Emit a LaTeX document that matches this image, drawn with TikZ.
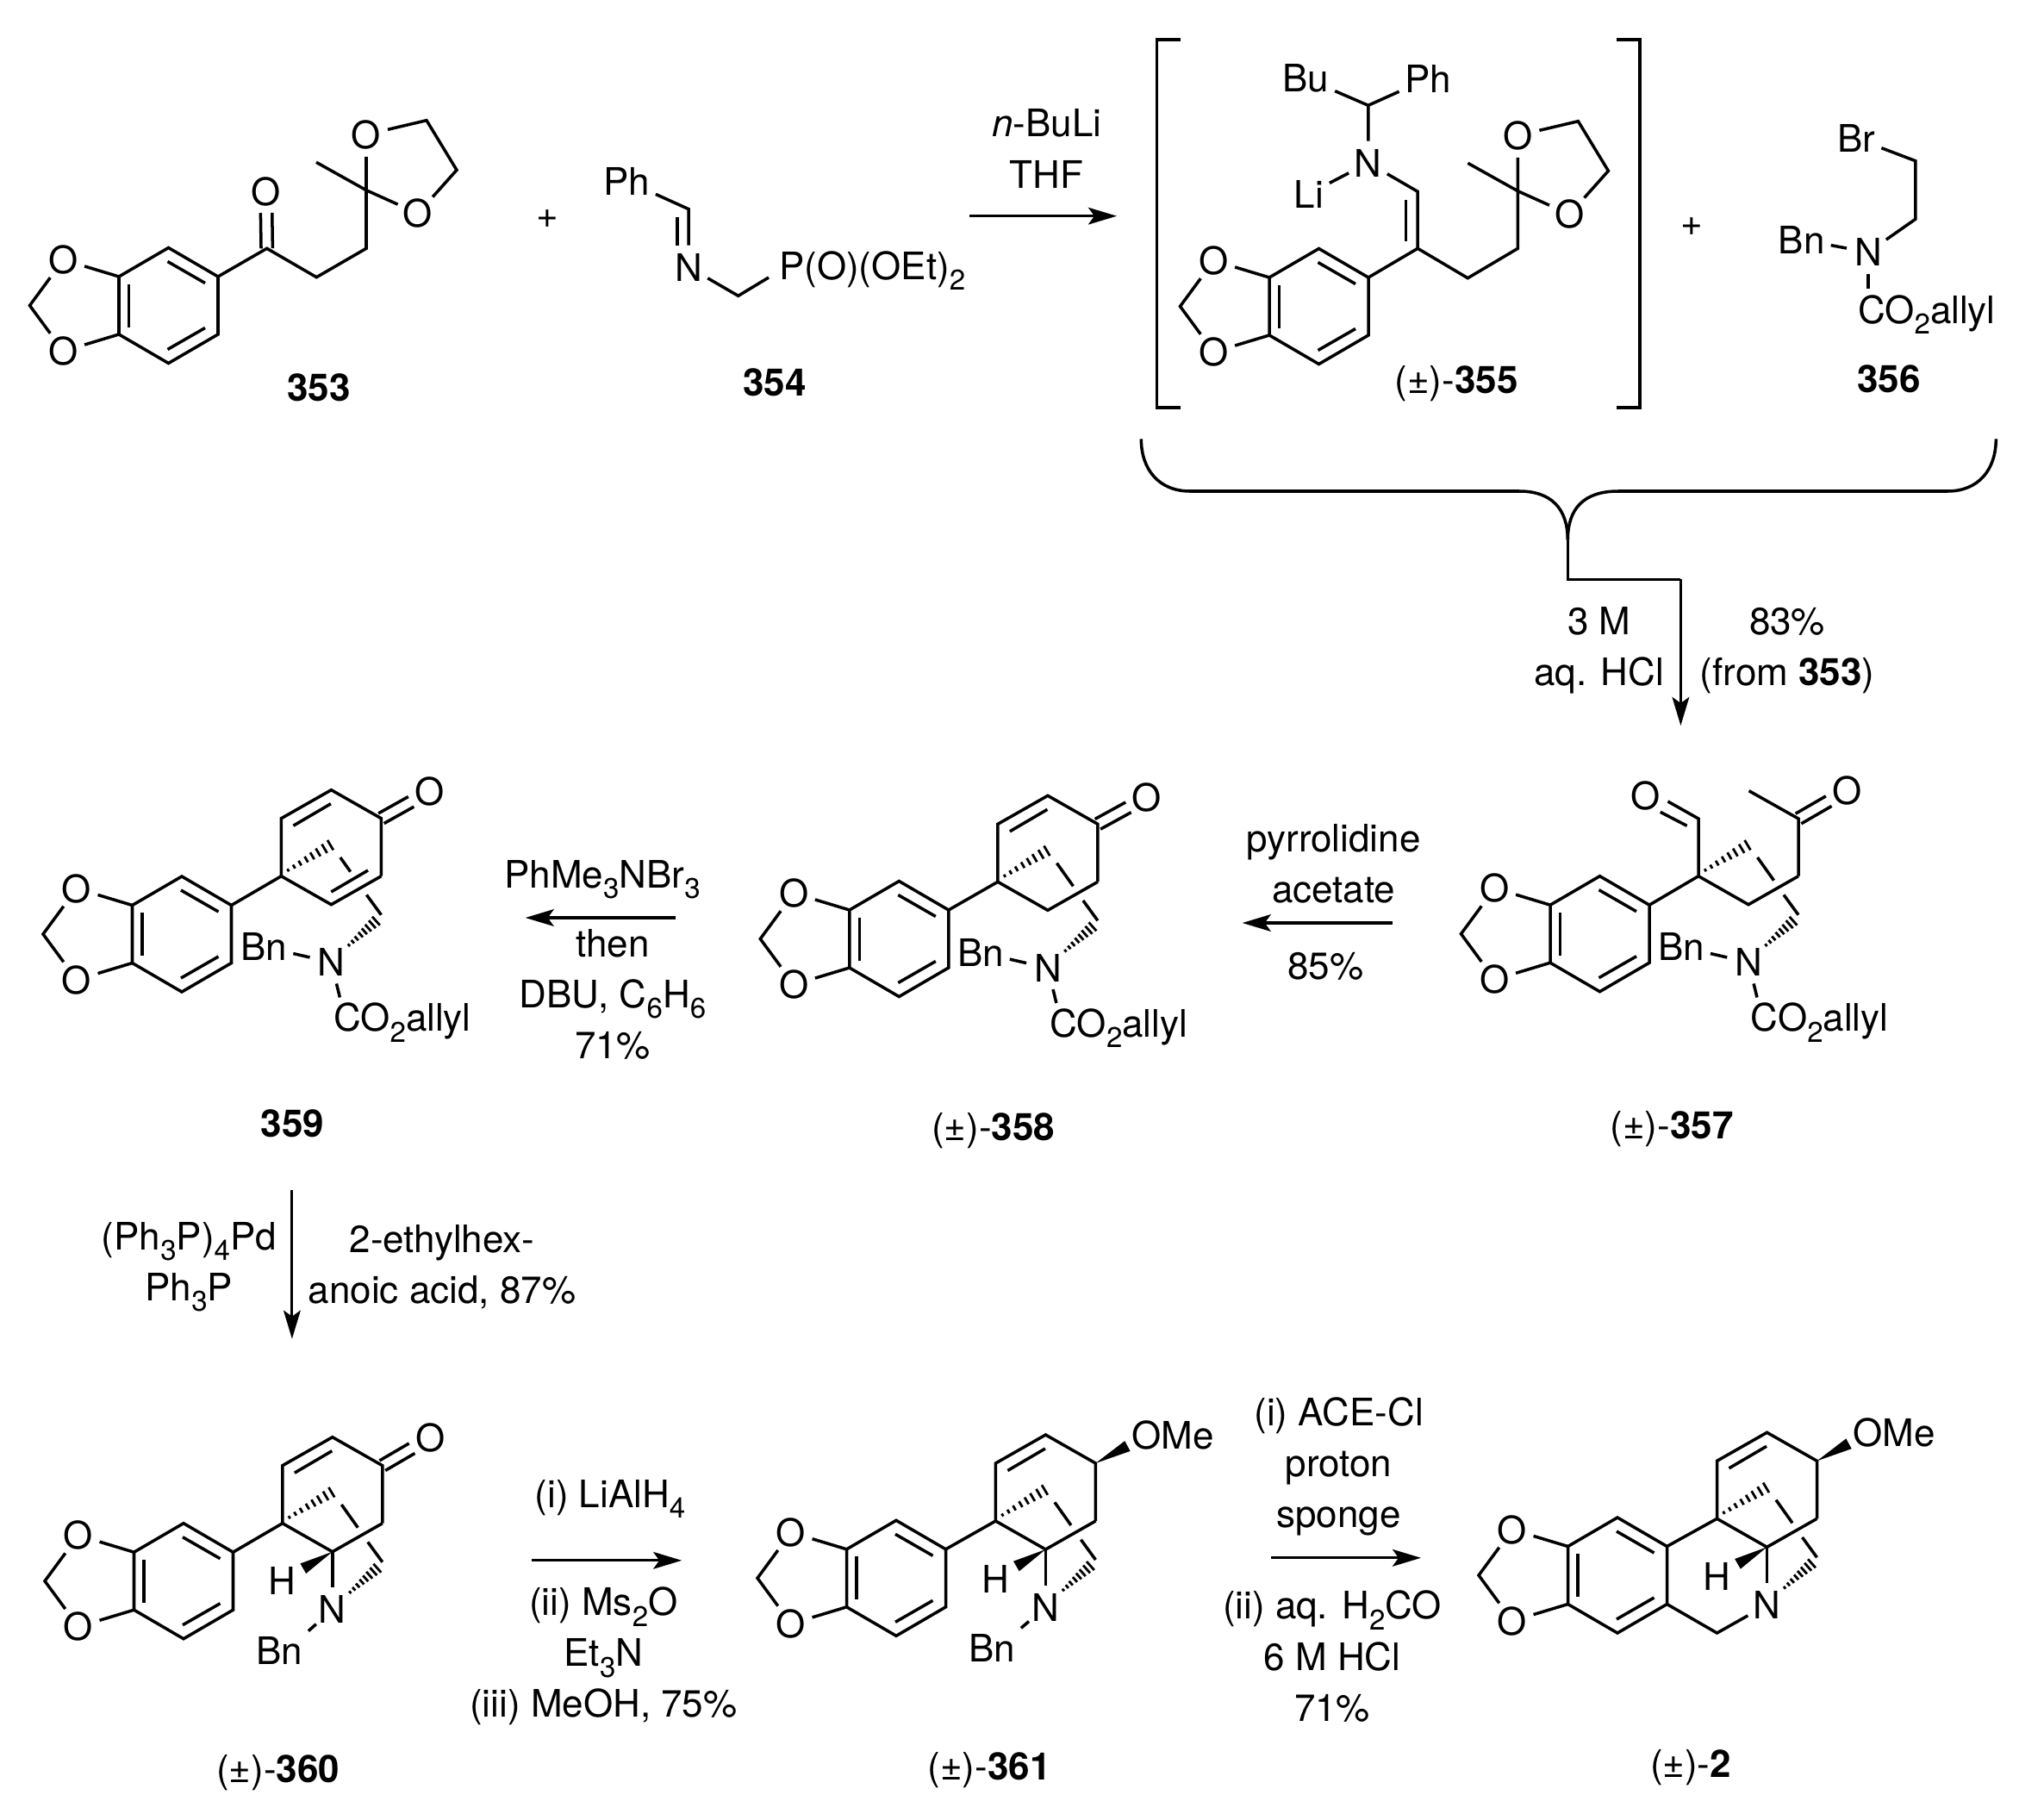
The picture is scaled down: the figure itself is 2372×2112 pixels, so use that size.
\documentclass[tikz,border=0pt]{standalone}
\usepackage{fontspec}
\setmainfont{TeX Gyre Heros}
\usetikzlibrary{arrows.meta, positioning, calc}
\newcommand{\Sub}[1]{\raisebox{-.28em}{\fontsize{9.4}{9.4}\selectfont #1}}
\newcommand{\Cmpd}[1]{\textbf{#1}}
\newcommand{\Rac}[1]{(±)-\textbf{#1}}
\newcommand{\Dbl}[2]{
    \draw[shorten >=7pt] ($(#1)!1.9pt!90:(#2)$) -- ($(#2)!1.9pt!-90:(#1)$);
    \draw[shorten >=7pt] ($(#1)!1.9pt!-90:(#2)$) -- ($(#2)!1.9pt!90:(#1)$);
}
\newcommand{\HashBond}[2]{
    \coordinate (far) at ($(#1)!2!(#2)$);
    \foreach \pos/\wid in {0/.5,.14/.7,.28/.9,.43/1.1,.57/1.3,.71/1.5,.86/1.7,1/1.9}
        \draw[line width=.8pt] ($(#1)!\pos!(#2)!\wid pt!90:(far)$) -- ($(#1)!\pos!(#2)!\wid pt!-90:(far)$);
}
\newcommand{\WedgeBond}[2]{
    \fill (#1) -- ($(#2)!1.9pt!90:(#1)$) -- ($(#2)!1.9pt!-90:(#1)$) -- cycle;
}
\tikzset{
    atom/.style={circle, inner sep=0pt, minimum size=13.5pt},
    grp/.style={inner sep=.5pt, outer sep=1.5pt},
    grpw/.style={inner sep=0pt, anchor=base west},
    cond/.style={align=center, inner sep=0pt},
    cmpd/.style={inner sep=0pt, anchor=base},
    rxn/.style={-{Stealth[length=9.4pt,width=5.6pt,inset=2pt]}, line width=.9pt},
    bdo/.pic = {
    \coordinate (a) at (-57.5,-33.5);
    \coordinate (b) at (0,-67);
    \coordinate (c) at (57.5,-33.5);
    \coordinate (d) at (57.5,33.5);
    \coordinate (e) at (0,67);
    \coordinate (f) at (-57.5,33.5);
    \coordinate (m) at (-161,0);
    \node[atom] (o1) at (-122,-53) {O};
    \node[atom] (o2) at (-122,53) {O};
    \draw (a) -- (b) -- (c) -- (d) -- (e) -- (f) -- cycle;
    \draw (o1) -- (a);
    \draw (o2) -- (f);
    \draw (o1) -- (m) -- (o2);
    \draw (-1,-51) -- (42.5,-26);
    \draw (-46,-25) -- (-46,25);
    \draw (-1,51) -- (42.5,26);
    },
    ketal/.pic = {
    \coordinate (k) at (0,0);
    \coordinate (me) at (-58,-32.4);
    \coordinate (e1) at (70,-81);
    \coordinate (e2) at (105,-23.4);
    \node[atom] (o1) at (0,-64.5) {O};
    \node[atom] (o2) at (60,27) {O};
    \draw (me) -- (k) -- (o1) -- (e1) -- (e2) -- (o2) -- (k);
    },
    bridge/.pic = {
    \coordinate (q) at (0,0);
    \coordinate (bot) at (58,33);
    \coordinate (rdn) at (116,0);
    \coordinate (ha) at (8,-7);
    \coordinate (hb) at (57,-36);
    \coordinate (hc) at (78.5,80);
    \coordinate (hd) at (110,52);
    \coordinate (sa) at (68.5,-21.7);
    \coordinate (sb) at (87.5,5);
    \node[atom] (n) at (58,100) {N};
    \draw (q) -- (bot) -- (rdn);
    \HashBond{ha}{hb}
    \HashBond{hc}{hd}
    \draw (sa) -- ($(sa)!#1!(sb)$);
    \draw (99,21.7) -- (116,45);
    },
    cap/.pic = {
    \coordinate (up) at (0,-67);
    \coordinate (top) at (58,-100);
    \coordinate (rup) at (116,-67);
    \draw (0,0) -- (up) -- (top) -- (rup) -- (116,0);
    \draw (14,-58.5) -- (57.5,-84);
    },
    carbam/.pic = {
    \coordinate (cb) at (68,140.7);
    \node[grp] (bn) at (-20,82) {Bn};
    \node[grpw] (co) at (59,180) {CO\Sub{2}allyl};
    \draw (bn) -- (n);
    \draw (n) -- (cb);
    },
    amine/.pic = {
    \coordinate (hw) at (24,52.5);
    \node[grp] (h) at (-.5,67) {H};
    \draw (bot) -- (n);
    \WedgeBond{bot}{hw}
    },
    ome/.pic = {
    \coordinate (mw) at (153,-87);
    \node[grpw] (om) at (156.5,-83.5) {OMe};
    \WedgeBond{rup}{mw}
    },
}
\begin{document}
\begin{tikzpicture}[x=.01cm, y=-.01cm, line width=1pt, font=\fontsize{12.5}{16.8}\selectfont]
    \useasboundingbox (0,0) rectangle (2372,2112);

    \pic (r353) at (195.5,354.5) {bdo};
    \pic (k353) at (425,220.7) {ketal};
    \coordinate (c353a) at (309.7,288.3);
    \coordinate (c353b) at (367.3,321.7);
    \coordinate (c353c) at (425,288.3);
    \node[atom] (o353) at (308.7,222.3) {O};
    \draw (r353c) -- (c353a) -- (c353b) -- (c353c) -- (k353k);
    \Dbl{c353a}{o353}
    \node[cmpd] (l353) at (370,465) {\Cmpd{353}};

    \node (plus1) at (635,254) {+};

    \node[grp] (ph354) at (727,210) {Ph};
    \coordinate (c354a) at (799.2,242.7);
    \node[atom] (n354) at (799.2,310) {N};
    \coordinate (c354b) at (856.7,343.3);
    \coordinate (c354c) at (892,322);
    \node[grpw] (p354) at (902.4,324) {P(O)(OEt)\Sub{2}};
    \draw (ph354) -- (c354a) -- (n354) -- (c354b) -- (c354c);
    \draw (786,252) -- (786,285);
    \node[cmpd] (l354) at (899,459) {\Cmpd{354}};

    \coordinate (a1s) at (1125,250.7);
    \coordinate (a1e) at (1296,250.7);
    \draw[rxn] (a1s) -- (a1e);
    \node[cond] (t1) at (1214.7,172.5) {\textit{n}-BuLi\\THF};

    \draw (1369.7,46) -| (1342.4,473) -- (1369.7,473);
    \draw (1875.5,46) -| (1902.9,473) -- (1875.5,473);

    \pic (r355) at (1530.5,355.5) {bdo};
    \pic (k355) at (1761.4,221.7) {ketal};
    \node[grp] (bu355) at (1515.3,91) {Bu};
    \node[grp] (ph355) at (1657.5,91) {Ph};
    \node[grp] (li355) at (1518.7,225) {Li};
    \node[atom] (n355) at (1587.8,189) {N};
    \coordinate (c355a) at (1587.8,122.3);
    \coordinate (c355b) at (1645.2,222.3);
    \coordinate (c355c) at (1645.2,288.3);
    \coordinate (c355d) at (1703.3,322.7);
    \coordinate (c355e) at (1761.4,288.3);
    \draw (bu355) -- (c355a) -- (ph355);
    \draw (c355a) -- (n355) -- (c355b) -- (c355c);
    \draw (li355) -- (n355);
    \draw (r355c) -- (c355c) -- (c355d) -- (c355e) -- (k355k);
    \draw (1631.5,232) -- (1631.5,280);
    \node[cmpd] (l355) at (1690,456.7) {\Rac{355}};

    \node (plus2) at (1963,262.7) {+};

    \node[grp] (br356) at (2154.4,160.7) {Br};
    \coordinate (c356a) at (2222.8,186.7);
    \coordinate (c356b) at (2222.8,254.3);
    \node[atom] (n356) at (2168,292.7) {N};
    \node[grp] (bn356) at (2090.8,278.3) {Bn};
    \coordinate (c356c) at (2168,335);
    \node[grpw] (co356) at (2154.4,375) {CO\Sub{2}allyl};
    \draw (br356) -- (c356a) -- (c356b) -- (n356) -- (bn356);
    \draw (n356) -- (c356c);
    \node[cmpd] (l356) at (2192,455) {\Cmpd{356}};

    \coordinate (bl1) at (1324.3,509.3);
    \coordinate (bl2) at (1381,570);
    \coordinate (bl3) at (1763,570);
    \coordinate (bj) at (1819.3,626.7);
    \coordinate (br1) at (2316.3,509.3);
    \coordinate (br2) at (2260,570);
    \coordinate (br3) at (1878,570);
    \coordinate (a2m) at (1819.3,672.3);
    \coordinate (a2n) at (1950.4,672.3);
    \coordinate (a2e) at (1950.4,842);
    \draw (bl1) .. controls (1324.3,545) and (1345,570) .. (bl2) -- (bl3) .. controls (1800,570) and (1819.3,590) .. (bj);
    \draw (br1) .. controls (2316.3,545) and (2296,570) .. (br2) -- (br3) .. controls (1838,570) and (1819.3,590) .. (bj);
    \draw (bj) -- (a2m) -- (a2n);
    \draw[rxn] (a2n) -- (a2e);
    \node[cond] (t2) at (1855.8,755) {3 M\\aq. HCl};
    \node[cond] (t3) at (2074,755) {83\%\\(from \Cmpd{353})};

    \coordinate (q357) at (1971,1016.7);
    \pic (r357) at (1856.5,1083.7) {bdo};
    \pic (x357) at (q357) {bridge=1};
    \pic (x357) at (q357) {carbam};
    \coordinate (c357a) at (1971,950);
    \coordinate (c357b) at (1935.5,930);
    \coordinate (c357c) at (1957.6,958.3);
    \coordinate (c357d) at (1926.8,942.3);
    \coordinate (c357e) at (2087,950);
    \coordinate (c357f) at (2029.6,917.7);
    \node[atom] (o357a) at (1909.8,923.3) {O};
    \node[atom] (o357b) at (2143.5,917.3) {O};
    \draw (r357c) -- (q357) -- (c357a) -- (c357b);
    \draw (c357c) -- (c357d);
    \draw (x357rdn) -- (c357e) -- (c357f);
    \Dbl{c357e}{o357b}
    \node[cmpd] (l357) at (1940,1321.7) {\Rac{357}};

    \coordinate (a3s) at (1615.7,1071);
    \coordinate (a3e) at (1441.7,1071);
    \draw[rxn] (a3s) -- (a3e);
    \node[cond] (t4) at (1547.6,1002) {pyrrolidine\\acetate};
    \node[cond] (t5) at (1538.5,1121) {85\%};

    \coordinate (q358) at (1157.9,1023.3);
    \pic (r358) at (1043.3,1089.5) {bdo};
    \pic (x358) at (q358) {bridge=1};
    \pic (x358) at (q358) {carbam};
    \pic (x358) at (q358) {cap};
    \node[atom] (o358) at (1331,925) {O};
    \draw (r358c) -- (q358);
    \Dbl{x358rup}{o358}
    \node[cmpd] (l358) at (1152.6,1323) {\Rac{358}};

    \coordinate (a4s) at (783.6,1065);
    \coordinate (a4e) at (609.7,1065);
    \draw[rxn] (a4s) -- (a4e);
    \node[cond] (t6) at (699,1021) {PhMe\Sub{3}NBr\Sub{3}};
    \node[cond] (t7) at (711,1154) {then\\DBU, C\Sub{6}H\Sub{6}\\71\%};

    \coordinate (q359) at (326.4,1016.7);
    \pic (r359) at (211,1084) {bdo};
    \pic (x359) at (q359) {bridge=.62};
    \pic (x359) at (q359) {carbam};
    \pic (x359) at (q359) {cap};
    \node[atom] (o359) at (498.6,918.3) {O};
    \draw (r359c) -- (q359);
    \draw (384.3,1035) -- (427,1010);
    \Dbl{x359rup}{o359}
    \node[cmpd] (l359) at (339.6,1319) {\Cmpd{359}};

    \coordinate (a5s) at (338.9,1381);
    \coordinate (a5e) at (338.9,1553.7);
    \draw[rxn] (a5s) -- (a5e);
    \node[cond] (t8) at (219.4,1470) {(Ph\Sub{3}P)\Sub{4}Pd\\Ph\Sub{3}P};
    \node[cond] (t9) at (513,1470) {2-ethylhex-\\anoic acid, 87\%};

    \coordinate (q360) at (327.8,1767.7);
    \pic (r360) at (213,1834.7) {bdo};
    \pic (x360) at (q360) {bridge=1};
    \pic (x360) at (q360) {cap};
    \pic (x360) at (q360) {amine};
    \node[atom] (o360) at (499.3,1668.3) {O};
    \node[grp] (bn360) at (324,1915.7) {Bn};
    \draw (r360c) -- (q360);
    \draw (x360n) -- (bn360.north east);
    \Dbl{x360rup}{o360}
    \node[cmpd] (l360) at (322.6,2068) {\Rac{360}};

    \coordinate (a6s) at (617.2,1810.8);
    \coordinate (a6e) at (791.2,1810.8);
    \draw[rxn] (a6s) -- (a6e);
    \node[cond] (t10) at (708,1739.7) {(i) LiAlH\Sub{4}};
    \node[cond] (t11) at (700.4,1922) {(ii) Ms\Sub{2}O\\Et\Sub{3}N\\(iii) MeOH, 75\%};

    \coordinate (q361) at (1155.4,1765);
    \pic (r361) at (1040,1831.3) {bdo};
    \pic (x361) at (q361) {bridge=1};
    \pic (x361) at (q361) {cap};
    \pic (x361) at (q361) {amine};
    \pic (x361) at (q361) {ome};
    \node[grp] (bn361) at (1151,1912.3) {Bn};
    \draw (r361c) -- (q361);
    \draw (x361n) -- (bn361.north east);
    \node[cmpd] (l361) at (1148,2065) {\Rac{361}};

    \coordinate (a7s) at (1475,1807.8);
    \coordinate (a7e) at (1649,1807.8);
    \draw[rxn] (a7s) -- (a7e);
    \node[cond] (t12) at (1553.6,1702) {(i) ACE-Cl\\proton\\sponge};
    \node[cond] (t13) at (1546,1922) {(ii) aq. H\Sub{2}CO\\6 M HCl\\71\%};

    \coordinate (q2) at (1992.5,1762.3);
    \pic (r2) at (1877,1828) {bdo};
    \pic (x2) at (q2) {bridge=1};
    \pic (x2) at (q2) {cap};
    \pic (x2) at (q2) {amine};
    \pic (x2) at (q2) {ome};
    \coordinate (c2a) at (1992.5,1895);
    \draw (r2c) -- (q2);
    \draw (r2d) -- (c2a) -- (x2n);
    \node[cmpd] (l2) at (1962,2062) {\Rac{2}};
\end{tikzpicture}
\end{document}
